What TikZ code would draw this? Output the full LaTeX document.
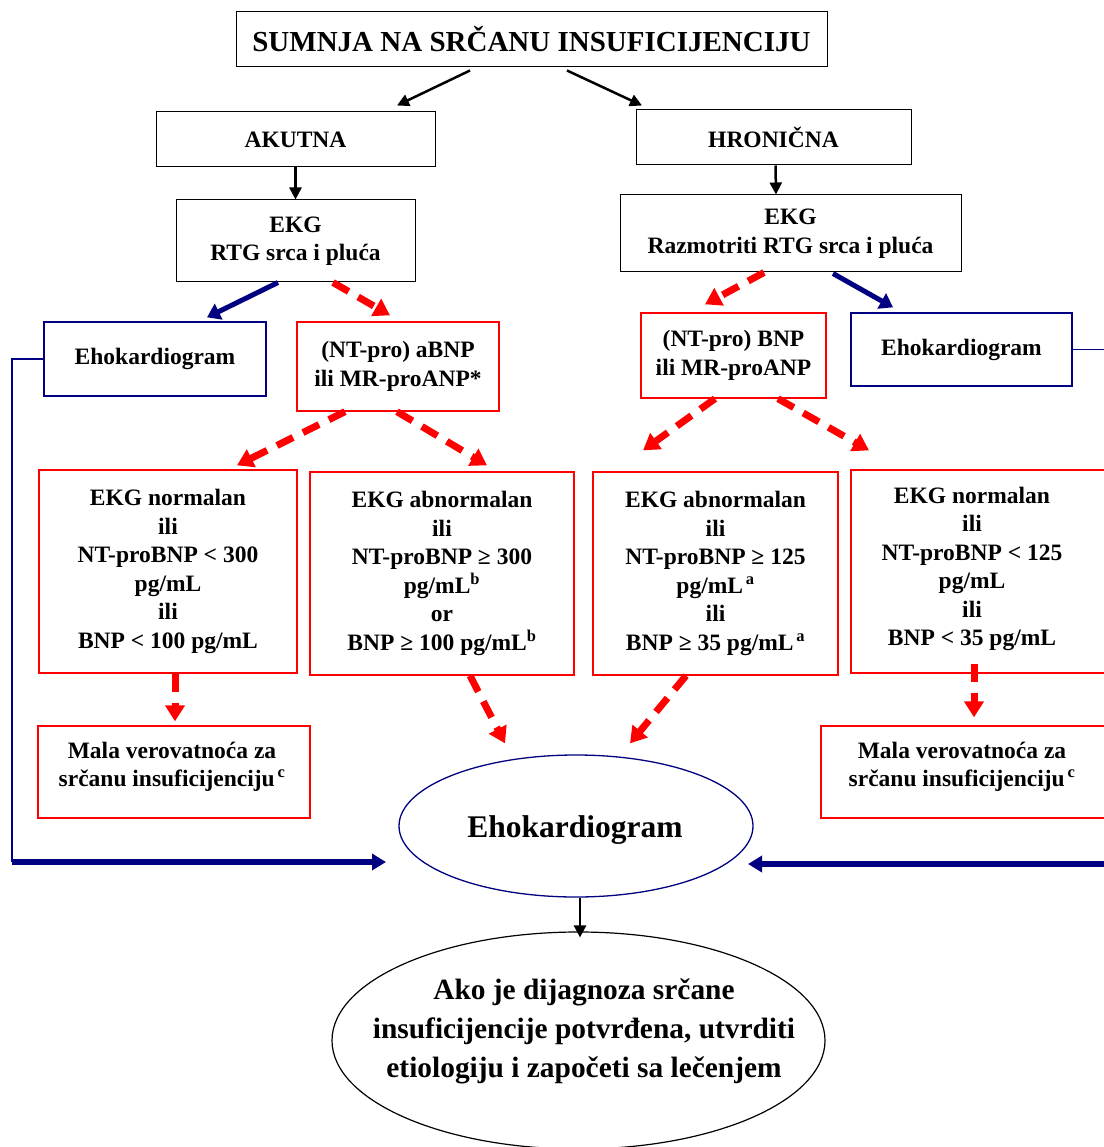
\documentclass[tikz,border=0pt]{standalone}
\usepackage{fontspec}
\setmainfont{Liberation Serif}
\usetikzlibrary{arrows.meta,shapes.geometric,calc}
\definecolor{navyb}{RGB}{0,0,128}
\definecolor{redd}{RGB}{255,0,0}
\begin{document}
\begin{tikzpicture}[x=1pt,y=-1pt,
  txt/.style={font=\bfseries\fontsize{23.5}{28.5}\selectfont, align=center, inner sep=0pt},
  bbox/.style={draw=black, line width=1pt, txt},
  rbox/.style={draw=redd, line width=1.3pt, txt},
  nbox/.style={draw=navyb, line width=1.3pt, txt},
  blk/.style={draw=black, line width=2.5pt, -{Triangle[length=12pt,width=12pt]}},
  blu/.style={draw=navyb, line width=5pt, -{Triangle[length=13pt,width=17pt]}},
  bluh/.style={draw=navyb, line width=6pt, -{Triangle[length=14pt,width=16pt]}},
  rdash/.style={draw=redd, line width=7pt, dash pattern=on 18pt off 11pt, -{Triangle[length=16pt,width=19pt]}},
  thinb/.style={draw=navyb, line width=1.2pt}
]
\useasboundingbox (0,0) rectangle (1103,1147);

% boxes
\node[bbox, minimum width=591pt, minimum height=55pt, font=\bfseries\fontsize{29}{34}\selectfont] (title) at (531.5,39.5) {SUMNJA NA SRČANU INSUFICIJENCIJU};
\node[bbox, minimum width=279pt, minimum height=55pt] (akut) at (295.5,139.5) {AKUTNA};
\node[bbox, minimum width=275pt, minimum height=55pt] (hron) at (773.5,137.5) {HRONIČNA};
\node[bbox, minimum width=239pt, minimum height=82pt] (ekgL) at (295.5,241) {EKG\\RTG srca i pluća};
\node[bbox, minimum width=341pt, minimum height=77pt] (ekgR) at (790.5,233.5) {EKG\\Razmotriti RTG srca i pluća};
\node[nbox, minimum width=222pt, minimum height=74pt] (ehoL) at (155,359) {Ehokardiogram};
\node[rbox, minimum width=202pt, minimum height=89pt] (bnpL) at (398,366.5) {(NT-pro) aBNP\\ili MR-proANP*};
\node[rbox, minimum width=185pt, minimum height=85pt] (bnpR) at (733.5,355.5) {(NT-pro) BNP\\ili MR-proANP};
\node[nbox, minimum width=221pt, minimum height=73pt] (ehoR) at (961.5,349.5) {Ehokardiogram};

\node[rbox, minimum width=258pt, minimum height=203pt] (b1) at (168,571.5) {EKG normalan\\ili\\NT-proBNP < 300\\pg/mL\\ili\\BNP < 100 pg/mL};
\node[rbox, minimum width=264pt, minimum height=203pt] (b2) at (442,573.5) {EKG abnormalan\\ili\\NT-proBNP ≥ 300\\pg/mL\textsuperscript{b}\\or\\BNP ≥ 100 pg/mL\textsuperscript{b}};
\node[rbox, minimum width=245pt, minimum height=203pt] (b3) at (715.5,573.5) {EKG abnormalan\\ili\\NT-proBNP ≥ 125\\pg/mL\textsuperscript{\,a}\\ili\\BNP ≥ 35 pg/mL\textsuperscript{\,a}};
\node[rbox, minimum width=264pt, minimum height=203pt] (b4) at (983,571.5) {};
\node[txt] (b4t) at (972,569) {EKG normalan\\ili\\NT-proBNP < 125\\pg/mL\\ili\\BNP < 35 pg/mL};

\node[rbox, minimum width=272pt, minimum height=92pt] (m1) at (174,772) {};
\node[txt] (m1t) at (172,767) {Mala verovatnoća za\\srčanu insuficijenciju\textsuperscript{\,c}};
\node[rbox, minimum width=294pt, minimum height=92pt] (m2) at (968,772) {};
\node[txt] (m2t) at (962,767) {Mala verovatnoća za\\srčanu insuficijenciju\textsuperscript{\,c}};

\node[ellipse, draw=navyb, line width=1.3pt, minimum width=354pt, minimum height=142pt, inner sep=0pt] (eE) at (576,826) {};
\node[inner sep=0pt, font=\bfseries\fontsize{31.5}{38}\selectfont] (eEt) at (575,830) {Ehokardiogram};
\node[ellipse, draw=black, line width=1.2pt, minimum width=493pt, minimum height=217pt, inner sep=0pt] (eB) at (578.5,1040.5) {};
\node[inner sep=0pt, align=center, font=\bfseries\fontsize{29.4}{39}\selectfont] (eBt) at (584,1031)
  {Ako je dijagnoza srčane\\insuficijencije potvrđena, utvrditi\\etiologiju i započeti sa lečenjem};

% black arrows
\draw[blk] ($(title.south)+(-61.5,3)$) -- ($(akut.north)+(101.5,-6)$);
\draw[blk] ($(title.south)+(35.5,3)$) -- ($(hron.north)+(-131.5,-4)$);
\draw[blk] (akut.south) -- (ekgL.north);
\draw[blk] ($(hron.south)+(2,0)$) -- ($(ekgR.north)+(-14.5,0)$);
\draw[blk] ($(eE.south)+(4,0)$) -- ($(eB.north)+(1.5,6)$);

% blue arrows
\draw[blu] ($(ekgL.south)+(-17.5,0)$) -- ($(ehoL.north)+(52,-4)$);
\draw[blu] ($(ekgR.south)+(42.5,1)$) -- ($(ehoR.north)+(-68.5,-5)$);

% red dashed arrows
\draw[rdash] ($(ekgL.south)+(37.5,0)$) -- ($(bnpL.north)+(-8,-6)$);
\draw[rdash] ($(ekgR.south)+(-26.5,0)$) -- ($(bnpR.north)+(-28.5,-8)$);
\draw[rdash] ($(bnpL.south)+(-53,0)$) -- ($(b1.north)+(69,-4)$);
\draw[rdash] ($(bnpL.south)+(-1,0)$) -- ($(b2.north)+(45,-6)$);
\draw[rdash] ($(bnpR.south)+(-18.5,0)$) -- ($(b3.north)+(-72.5,-21)$);
\draw[rdash] ($(bnpR.south)+(44.5,0)$) -- ($(b4.north)+(-114,-19)$);
\draw[rdash] ($(b1.south)+(7,0)$) -- ($(m1.north)+(1,-4)$);
\draw[rdash] ($(b2.south)+(28,0)$) -- ($(eE.north)+(-71,-11)$);
\draw[rdash] ($(b3.south)+(-29.5,0)$) -- ($(eE.north)+(54,-11)$);
\draw[rdash] ($(b4.south)+(-9,-10)$) -- ($(m2.north)+(6,-8)$);

% side connectors
\coordinate (cL) at (12,862);
\coordinate (aL) at (386,862);
\coordinate (cR1) at (1110,349.5);
\coordinate (cR) at (1110,864);
\coordinate (aR) at (748,864);
\draw[thinb] (ehoL.west) -- (12,359) -- (cL);
\draw[bluh] (cL) -- (aL);
\draw[thinb] (ehoR.east) -- (cR1);
\draw[bluh] (cR) -- (aR);
\end{tikzpicture}
\end{document}
